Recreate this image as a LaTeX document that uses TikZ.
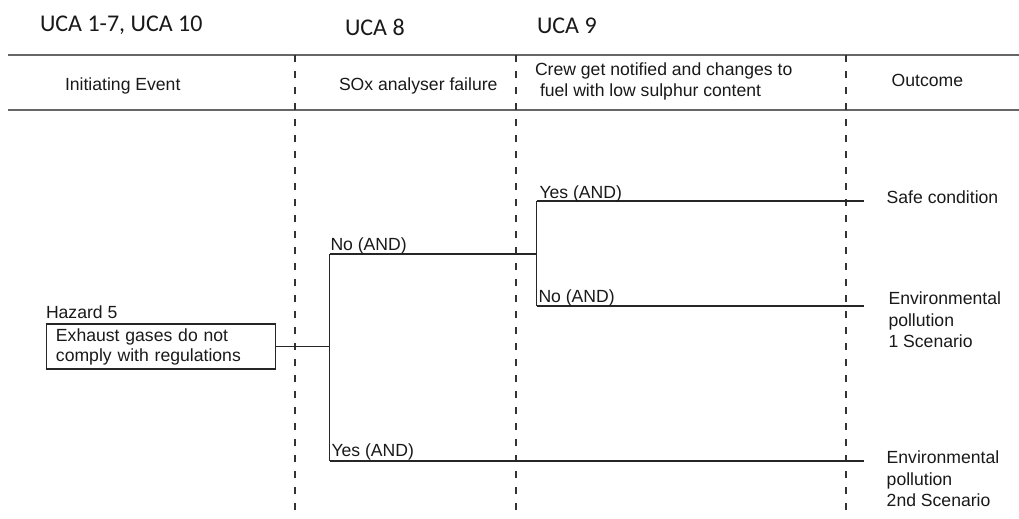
\documentclass[tikz,border=0pt]{standalone}
\usepackage{fontspec}
\setmainfont{Liberation Sans}
\newfontfamily\titlefont{Carlito}
\begin{document}
\begin{tikzpicture}[x=0.75pt,y=-0.75pt,
  every node/.style={inner sep=0pt, outer sep=0pt, text=black!90},
  lbl/.style={anchor=base west, font=\fontsize{13.2}{15.75}\selectfont},
  multi/.style={lbl, align=left, font=\fontsize{13.2}{16.1}\selectfont},
  uca/.style={anchor=base west, font=\titlefont\fontsize{18}{21}\selectfont},
  headline/.style={draw=black!60, line width=1.3pt},
  divider/.style={draw=black!80, line width=1pt, dash pattern=on 5.5pt off 6.5pt},
  branch/.style={draw=black!85, line width=0.95pt},
  hazbox/.style={draw=black!85, line width=0.8pt, anchor=north west,
    minimum width=171.4pt, minimum height=33.75pt, text width=157.2pt,
    inner xsep=7.1pt, inner ysep=0pt, align=left,
    font=\fontsize{13.2}{15}\selectfont}]
  \useasboundingbox (0,0) rectangle (1019,518);

  % column titles
  \node[uca] (uca1) at (40,31.7) {UCA 1-7, UCA 10};
  \node[uca] (uca2) at (345,35) {UCA 8};
  \node[uca] (uca3) at (537,33.3) {UCA 9};

  % header band
  \draw[headline] (8,55) -- (1019,55);
  \draw[headline] (8,110) -- (1019,110);

  % column dividers
  \foreach \x in {295,516,846}
    \draw[divider] (\x,55) -- (\x,518);

  % column headings (multi-line nodes sit on their last baseline)
  \node[lbl] (h1) at (65,90.7) {Initiating Event};
  \node[lbl] (h2) at (339,90) {SOx analyser failure};
  \node[multi, font=\fontsize{13.2}{16}\selectfont] (h3) at (535,96.7)
    {Crew get notified and changes to\\\hspace*{3.75pt}fuel with low sulphur content};
  \node[lbl] (h4) at (891.7,86) {Outcome};

  % initiating event
  \node[lbl] (hz) at (46,318) {Hazard 5};
  \node[hazbox] (box) at (46.5,324) {Exhaust gases do not\\comply with regulations};

  % branch points
  \coordinate (j1) at (329.5,346.5);
  \coordinate (n1) at (329.5,254);
  \coordinate (y1) at (329.5,461);
  \coordinate (j2) at (536.7,254);
  \coordinate (y2) at (536.7,201);
  \coordinate (n2) at (536.7,306);
  \coordinate (e1) at (864,201);
  \coordinate (e2) at (864,306);
  \coordinate (e3) at (864,461);

  \draw[branch] (box.east) -- (j1);
  \draw[branch] (n1) -- (y1);
  \draw[branch] (n1) -- (j2);
  \draw[branch] (y2) -- (n2);
  \draw[branch] (y2) -- (e1);
  \draw[branch] (n2) -- (e2);
  \draw[branch] (y1) -- (e3);

  % branch labels
  \node[lbl] (l1) at (330.5,250.7) {No (AND)};
  \node[lbl] (l2) at (539.5,198) {Yes (AND)};
  \node[lbl] (l3) at (538.5,302.7) {No (AND)};
  \node[lbl] (l4) at (331.5,456.7) {Yes (AND)};

  % outcomes
  \node[lbl] (o1) at (886.7,203) {Safe condition};
  \node[multi] (o2) at (888.5,347.5) {Environmental\\pollution\\1 Scenario};
  \node[multi] (o3) at (886.7,506.5) {Environmental\\pollution\\2nd Scenario};
\end{tikzpicture}
\end{document}
